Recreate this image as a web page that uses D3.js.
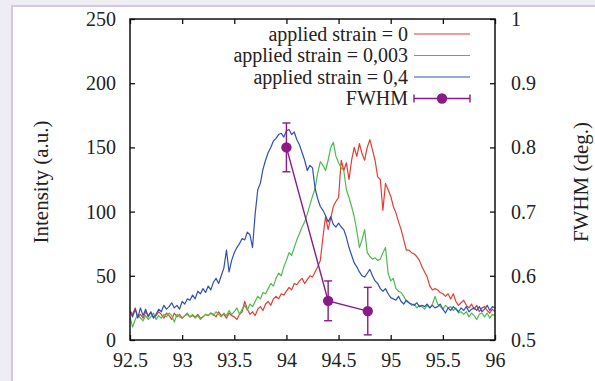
<!DOCTYPE html>
<html>
<head>
<meta charset="utf-8">
<script src="https://cdn.jsdelivr.net/npm/d3@7"></script>
<style>
  html, body { margin: 0; padding: 0; background: #efedf4; }
  svg { display: block; }
  text { font-family: "Liberation Serif", "Times New Roman", serif; fill: #222; }
</style>
</head>
<body>
<svg id="chart" width="595" height="381"></svg>
<script>
// 2theta grid (deg), one sample every 0.025
const thetaStart = 92.5;
const thetaStep = 0.025;

const strain0 = [
  23, 20, 25, 18, 20, 17, 22, 19, 21, 18, 19, 22, 20, 17, 21, 19,
  16, 21, 18, 20, 17, 19, 20, 18, 19, 18, 20, 17, 18, 20, 19, 21,
  20, 18, 22, 19, 20, 17, 21, 19, 18, 16, 20, 22, 30, 24, 20, 22,
  19, 24, 26, 23, 28, 30, 27, 32, 34, 32, 36, 35, 38, 41, 39, 44,
  43, 46, 48, 44, 47, 50, 49, 53, 57, 62, 80, 96, 86, 95, 104, 108,
  111, 140, 132, 138, 125, 140, 150, 143, 153, 145, 140, 150, 156, 148, 140, 127,
  125, 101, 122, 117, 112, 104, 99, 92, 86, 78, 70, 70, 68, 67, 65, 62,
  57, 53, 49, 42, 39, 40, 39, 37, 36, 34, 36, 32, 36, 30, 27, 29,
  31, 27, 25, 28, 24, 27, 22, 25, 26, 23, 21, 24, 22
];

const strain0003 = [
  18, 10, 16, 20, 17, 15, 19, 16, 18, 21, 16, 19, 17, 20, 18, 21,
  19, 14, 20, 18, 17, 19, 21, 18, 20, 17, 19, 16, 18, 20, 19, 21,
  19, 22, 20, 18, 21, 19, 23, 20, 22, 25, 20, 24, 27, 23, 28, 26,
  30, 34, 32, 37, 36, 40, 44, 42, 48, 52, 50, 57, 62, 68, 66, 72,
  78, 83, 88, 92, 98, 105, 112, 118, 130, 139, 136, 132, 140, 150, 154, 143,
  138, 134, 132, 117, 111, 104, 96, 85, 72, 78, 86, 68, 65, 63, 64, 62,
  63, 68, 72, 52, 46, 48, 40, 38, 37, 34, 30, 29, 27, 28, 25, 27,
  26, 24, 27, 25, 28, 34, 28, 26, 24, 27, 25, 26, 23, 25, 21, 22,
  20, 22, 18, 21, 19, 16, 20, 21, 18, 21, 17, 20, 19
];

const strain04 = [
  22, 18, 24, 17, 25, 19, 24, 18, 22, 17, 20, 24, 22, 27, 24, 26,
  29, 25, 27, 24, 30, 28, 32, 31, 35, 32, 38, 36, 40, 37, 42, 39,
  45, 48, 44, 50, 56, 70, 53, 62, 68, 72, 75, 79, 78, 84, 82, 72,
  98, 117, 122, 133, 140, 146, 150, 155, 157, 160, 161, 158, 163, 164, 160, 162,
  156, 152, 146, 140, 132, 136, 134, 118, 110, 104, 101, 97, 92, 96, 90, 88,
  91, 88, 86, 80, 72, 66, 60, 57, 53, 50, 49, 52, 55, 50, 46, 44,
  40, 38, 40, 36, 33, 32, 31, 34, 30, 28, 31, 29, 28, 27, 29, 26,
  27, 26, 28, 25, 27, 25, 26, 28, 24, 21, 25, 23, 26, 24, 22, 25,
  23, 26, 22, 24, 25, 23, 26, 22, 24, 27, 23, 26, 25
];

// FWHM (deg.) on the right axis
const fwhmTheta = [94.0, 94.4, 94.78];
const fwhmValue = [0.80, 0.561, 0.545];
const fwhmError = [0.038, 0.031, 0.037];

const xTicks = [92.5, 93, 93.5, 94, 94.5, 95, 95.5, 96];
const xTickLabels = ["92.5", "93", "93.5", "94", "94.5", "95", "95.5", "96"];
const yTicks = [0, 50, 100, 150, 200, 250];
const y2Ticks = [0.5, 0.6, 0.7, 0.8, 0.9, 1];
const y2TickLabels = ["0.5", "0.6", "0.7", "0.8", "0.9", "1"];

const seriesNames = ["applied strain = 0", "applied strain = 0,003", "applied strain = 0,4"];
const seriesColors = ["#ec3a30", "#4cbc4a", "#2f50b4"];
const fwhmColor = "#8a1a88";

const plotL = 130, plotR = 495, plotT = 19, plotB = 340;

const svg = d3.select("#chart");

// white panel
svg.append("rect")
  .attr("x", 12).attr("y", 6)
  .attr("width", 620).attr("height", 420)
  .attr("fill", "#fff")
  .attr("stroke", "#d7c6de")
  .attr("stroke-width", 2);

const x = d3.scaleLinear().domain([92.5, 96]).range([plotL, plotR]);
const y = d3.scaleLinear().domain([0, 250]).range([plotB, plotT]);
const y2 = d3.scaleLinear().domain([0.5, 1]).range([plotB, plotT]);

const allSeries = [strain0, strain0003, strain04];

const line = d3.line()
  .x((d, i) => x(thetaStart + i * thetaStep))
  .y(d => y(d));

svg.append("clipPath").attr("id", "plotclip")
  .append("rect").attr("x", plotL).attr("y", plotT)
  .attr("width", plotR - plotL).attr("height", plotB - plotT);

const plot = svg.append("g").attr("clip-path", "url(#plotclip)");

allSeries.forEach((s, k) => {
  plot.append("path")
    .datum(s)
    .attr("d", line)
    .attr("fill", "none")
    .attr("stroke", seriesColors[k])
    .attr("stroke-width", 1.2)
    .attr("stroke-linejoin", "round");
});

// FWHM with error bars
const fwhm = fwhmTheta.map((t, i) => ({t: t, v: fwhmValue[i], e: fwhmError[i]}));

plot.append("path")
  .datum(fwhm)
  .attr("d", d3.line().x(d => x(d.t)).y(d => y2(d.v)))
  .attr("fill", "none")
  .attr("stroke", fwhmColor)
  .attr("stroke-width", 1.4);

const eb = plot.selectAll(".eb").data(fwhm).enter().append("g").attr("class", "eb")
  .attr("stroke", fwhmColor).attr("stroke-width", 1.4);
eb.append("line")
  .attr("x1", d => x(d.t)).attr("x2", d => x(d.t))
  .attr("y1", d => y2(d.v - d.e)).attr("y2", d => y2(d.v + d.e));
eb.append("line")
  .attr("x1", d => x(d.t) - 4).attr("x2", d => x(d.t) + 4)
  .attr("y1", d => y2(d.v - d.e)).attr("y2", d => y2(d.v - d.e));
eb.append("line")
  .attr("x1", d => x(d.t) - 4).attr("x2", d => x(d.t) + 4)
  .attr("y1", d => y2(d.v + d.e)).attr("y2", d => y2(d.v + d.e));

plot.selectAll(".dot").data(fwhm).enter().append("circle")
  .attr("cx", d => x(d.t)).attr("cy", d => y2(d.v))
  .attr("r", 5.2).attr("fill", fwhmColor);

// axes, ticks pointing inwards like gnuplot
const fontSize = 20;
const labelSize = 21;

svg.append("g").attr("transform", `translate(0,${plotB})`)
  .call(d3.axisBottom(x).tickValues(xTicks).tickFormat((d, i) => xTickLabels[i])
    .tickSizeInner(-5).tickSizeOuter(0).tickPadding(13));
svg.append("g").attr("transform", `translate(0,${plotT})`)
  .call(d3.axisTop(x).tickValues(xTicks).tickFormat("")
    .tickSizeInner(-5).tickSizeOuter(0));
svg.append("g").attr("transform", `translate(${plotL},0)`)
  .call(d3.axisLeft(y).tickValues(yTicks).tickFormat(d3.format("d"))
    .tickSizeInner(-5).tickSizeOuter(0).tickPadding(14));
svg.append("g").attr("transform", `translate(${plotR},0)`)
  .call(d3.axisRight(y2).tickValues(y2Ticks).tickFormat((d, i) => y2TickLabels[i])
    .tickSizeInner(-5).tickSizeOuter(0).tickPadding(16));

svg.selectAll(".domain").remove();
svg.selectAll("g").attr("font-family", null);
svg.selectAll(".tick line").attr("stroke", "#111").attr("stroke-width", 1.3);
svg.selectAll(".tick text")
  .style("font-family", "'Liberation Serif', serif")
  .style("font-size", fontSize + "px")
  .attr("fill", "#222");

// frame
svg.append("rect")
  .attr("x", plotL).attr("y", plotT)
  .attr("width", plotR - plotL).attr("height", plotB - plotT)
  .attr("fill", "none").attr("stroke", "#111").attr("stroke-width", 1.5);

// axis titles
svg.append("text")
  .attr("transform", "translate(48,182) rotate(-90)")
  .attr("text-anchor", "middle")
  .style("font-size", labelSize + "px")
  .text("Intensity (a.u.)");

svg.append("text")
  .attr("transform", "translate(588,182) rotate(-90)")
  .attr("text-anchor", "middle")
  .style("font-size", labelSize + "px")
  .text("FWHM (deg.)");

// legend
const legendSize = 20;
const legendRowY = [34, 55.5, 77, 98.5];
const legendTextX = 408, sampleX1 = 414, sampleX2 = 470;

const leg = svg.append("g");
seriesNames.forEach((name, k) => {
  leg.append("text")
    .attr("x", legendTextX).attr("y", legendRowY[k]).attr("dy", "0.34em")
    .attr("text-anchor", "end")
    .style("font-size", legendSize + "px")
    .text(name);
  leg.append("line")
    .attr("x1", sampleX1).attr("x2", sampleX2)
    .attr("y1", legendRowY[k]).attr("y2", legendRowY[k])
    .attr("stroke", seriesColors[k]).attr("stroke-width", 1.2);
});

const fy = legendRowY[3];
leg.append("text")
  .attr("x", legendTextX).attr("y", fy).attr("dy", "0.34em")
  .attr("text-anchor", "end")
  .style("font-size", legendSize + "px")
  .text("FWHM");
const fl = leg.append("g").attr("stroke", fwhmColor).attr("stroke-width", 1.4);
fl.append("line").attr("x1", sampleX1).attr("x2", sampleX2).attr("y1", fy).attr("y2", fy);
fl.append("line").attr("x1", sampleX1).attr("x2", sampleX1).attr("y1", fy - 4).attr("y2", fy + 4);
fl.append("line").attr("x1", sampleX2).attr("x2", sampleX2).attr("y1", fy - 4).attr("y2", fy + 4);
leg.append("circle").attr("cx", (sampleX1 + sampleX2) / 2).attr("cy", fy)
  .attr("r", 5.2).attr("fill", fwhmColor);
</script>
</body>
</html>
